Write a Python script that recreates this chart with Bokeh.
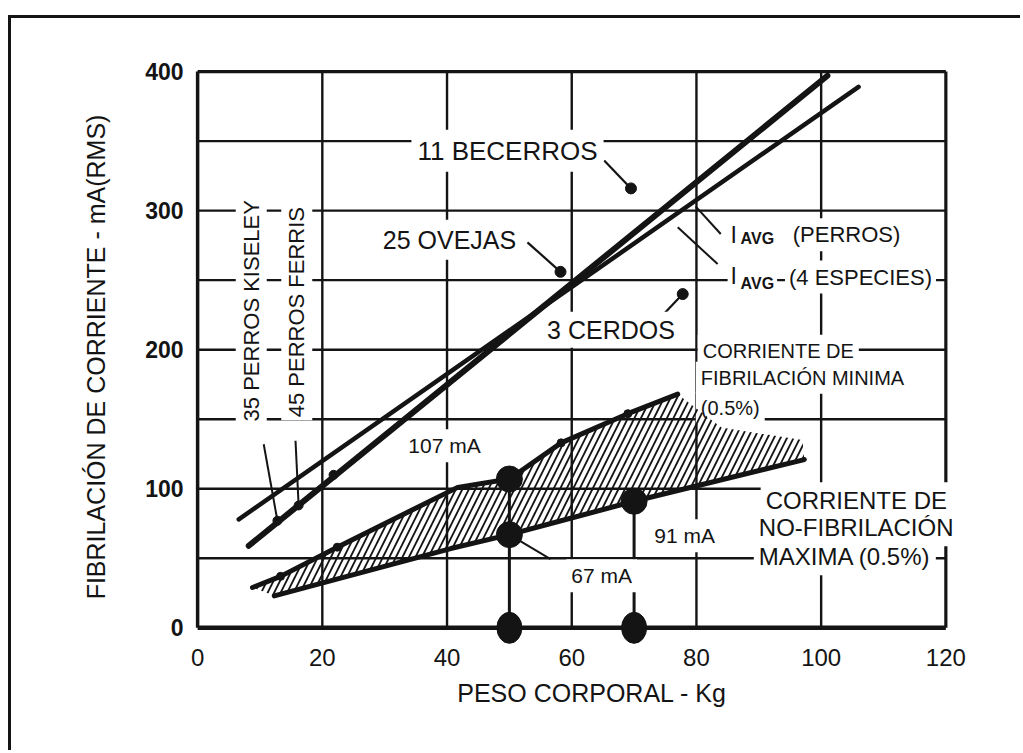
from bokeh.plotting import figure
from bokeh.models import Range1d, FixedTicker, Label
from bokeh.embed import file_html
from bokeh.resources import INLINE
import math

FONT = "Liberation Sans"
INK = "#141414"

# axes
x_ticks = [0, 20, 40, 60, 80, 100, 120]
y_ticks = [0, 100, 200, 300, 400]
grid_x = [20, 40, 60, 80, 100]
grid_y = [50, 100, 150, 200, 250, 300, 350]

# average fibrillation current, dogs and four species (kg, mA)
iavg_perros_kg = [8.2, 101.0]
iavg_perros_ma = [59, 397]
iavg_especies_kg = [6.6, 106.0]
iavg_especies_ma = [78, 389]

# dog study points on the average line
perros_pts_kg = [12.8, 16.2, 21.8]
perros_pts_ma = [77, 88, 110]

# other species (kg, mA)
especies_kg = [69.5, 58.2, 77.8]
especies_ma = [316, 256, 240]
especies_labels = ["11 BECERROS", "25 OVEJAS", "3 CERDOS"]

# minimum fibrillation current (0.5%)
min_fib_kg = [8.8, 13.3, 22.4, 41.7, 50, 58.3, 69, 77]
min_fib_ma = [29, 37, 58, 101, 107, 133, 154, 168]

# maximum non-fibrillation current (0.5%)
max_nofib_kg = [12.3, 40.6, 50, 58.3, 70, 97.3]
max_nofib_ma = [23, 57, 67, 77, 91, 121]

# upper edge of the hatched band past the end of the minimum curve
band_tail_kg = [84, 97]
band_tail_ma = [144, 135]

# highlighted currents at 50 kg and 70 kg
marked_kg = [50, 50, 70]
marked_ma = [107, 67, 91]
marked_labels = ["107 mA", "67 mA", "91 mA"]
axis_marks_kg = [50, 70]

p = figure(width=1012, height=735,
           x_range=Range1d(-0.5, 127.0), y_range=Range1d(-12, 401.5),
           output_backend="svg", toolbar_location=None,
           min_border_left=183, min_border_right=34,
           min_border_top=51, min_border_bottom=109)
p.margin = (15, 0, 0, 8)
p.styles = {"border-top": "3px solid #141414", "border-left": "3px solid #141414"}
p.outline_line_color = None
p.grid.visible = False
p.background_fill_color = "white"
p.border_fill_color = "white"

# axes: labels only, the frame is drawn below
p.xaxis.ticker = FixedTicker(ticks=x_ticks)
p.yaxis.ticker = FixedTicker(ticks=y_ticks)
for ax in (p.xaxis[0], p.yaxis[0]):
    ax.axis_line_color = None
    ax.major_tick_line_color = None
    ax.minor_tick_line_color = None
    ax.major_tick_out = 0
    ax.major_tick_in = 0
    ax.major_label_text_font = FONT
    ax.major_label_text_color = INK
    ax.axis_label_text_font = FONT
    ax.axis_label_text_font_style = "normal"
    ax.axis_label_text_color = INK
    ax.axis_label_text_font_size = "25px"

p.xaxis.major_label_text_font_size = "24px"
p.xaxis.major_label_standoff = 4
p.xaxis.axis_label = "PESO CORPORAL - Kg"
p.xaxis.axis_label_standoff = 10

p.yaxis.major_label_text_font_size = "23px"
p.yaxis.major_label_text_font_style = "bold"
p.yaxis.major_label_standoff = 11
p.yaxis.axis_label = "FIBRILACIÓN DE CORRIENTE - mA(RMS)"
p.yaxis.axis_label_standoff = 32

x0, x1 = x_ticks[0], x_ticks[-1]
y0, y1 = y_ticks[0], y_ticks[-1]

# grid
p.segment(x0=grid_x, y0=[y0] * len(grid_x), x1=grid_x, y1=[y1] * len(grid_x),
          line_color=INK, line_width=2.4)
p.segment(x0=[x0] * len(grid_y), y0=grid_y, x1=[x1] * len(grid_y), y1=grid_y,
          line_color=INK, line_width=2.4)

# frame
p.segment(x0=[x0], y0=[y0], x1=[x0], y1=[y1], line_color=INK, line_width=3.5)
p.segment(x0=[x0], y0=[y0], x1=[x1], y1=[y0], line_color=INK, line_width=4.5)
p.segment(x0=[x0], y0=[y1], x1=[x1], y1=[y1], line_color=INK, line_width=3.2)
p.segment(x0=[x1], y0=[y0], x1=[x1], y1=[y1], line_color=INK, line_width=3.2)

# average current lines
p.line(iavg_perros_kg, iavg_perros_ma, line_color=INK, line_width=6, line_cap="round")
p.line(iavg_especies_kg, iavg_especies_ma, line_color=INK, line_width=4.5, line_cap="round")
p.scatter(perros_pts_kg, perros_pts_ma, size=9, color=INK)

# species points and their leaders
p.scatter(especies_kg, especies_ma, size=11, color=INK)
leader_from = [(65.2, 336.0), (52.9, 277.2), (74.8, 225.9)]
p.segment(x0=[a for a, _ in leader_from], y0=[b for _, b in leader_from],
          x1=especies_kg, y1=especies_ma, line_color=INK, line_width=2.2)
p.segment(x0=[59.8], y0=[225.9], x1=[73.8], y1=[225.9],
          line_color="#9a9a9a", line_width=1.5, line_dash="6 4")

# dog study leaders
p.segment(x0=[10.6, 15.7], y0=[132, 134.5],
          x1=perros_pts_kg[:2], y1=perros_pts_ma[:2], line_color=INK, line_width=2)

# I_AVG leaders
p.segment(x0=[83.9, 83.4], y0=[283.2, 261.6], x1=[79.9, 77.0], y1=[302.9, 288.0],
          line_color=INK, line_width=2)

# fibrillation band
p.line(min_fib_kg, min_fib_ma, line_color=INK, line_width=5, line_cap="round")
p.line(max_nofib_kg, max_nofib_ma, line_color=INK, line_width=5, line_cap="round")
p.scatter(min_fib_kg[1:3] + min_fib_kg[5:7], min_fib_ma[1:3] + min_fib_ma[5:7],
          size=8, color=INK)
band_x = min_fib_kg + band_tail_kg + max_nofib_kg[::-1]
band_y = min_fib_ma + band_tail_ma + max_nofib_ma[::-1]
p.patch(band_x, band_y, fill_color=None, line_color=None,
        hatch_pattern="/", hatch_color=INK, hatch_weight=1.8, hatch_scale=13,
        level="overlay")

# 50 kg and 70 kg markers
tops = [max(m for k, m in zip(marked_kg, marked_ma) if k == a) for a in axis_marks_kg]
p.segment(x0=axis_marks_kg, y0=tops, x1=axis_marks_kg, y1=[-10] * len(axis_marks_kg),
          line_color=INK, line_width=3)
p.scatter(marked_kg, marked_ma, size=26, color=INK)
p.ellipse(x=axis_marks_kg, y=[y0] * len(axis_marks_kg), width=25, height=31,
          width_units="screen", height_units="screen", color=INK)
p.segment(x0=[marked_kg[1]], y0=[marked_ma[1]], x1=[56.6], y1=[49.4],
          line_color=INK, line_width=2)


def label(x, y, text, size, align="center", angle=0.0, style="normal", pad=4):
    p.add_layout(Label(x=x, y=y, text=text, text_font=FONT, text_font_size=f"{size}px",
                       text_font_style=style, text_color=INK, text_align=align,
                       text_baseline="middle", angle=angle,
                       background_fill_color="white", padding=pad))


label(49.7, 343.0, especies_labels[0], 26, pad=6)
label(40.4, 279.0, especies_labels[1], 25, pad=6)
label(66.3, 214.4, especies_labels[2], 25, pad=4)

label(8.6, 228.0, "35 PERROS KISELEY", 22, angle=math.pi / 2, pad=3)
label(15.9, 227.0, "45 PERROS FERRIS", 22, angle=math.pi / 2, pad=3)

label(85.0, 282.7, "I", 23, align="left", pad=3)
label(86.6, 280.0, "AVG", 16, align="left", style="bold", pad=3)
label(94.8, 282.7, "(PERROS)", 22, align="left", pad=4)
label(85.0, 253.2, "I", 23, align="left", pad=3)
label(86.6, 247.8, "AVG", 16, align="left", style="bold", pad=3)
label(94.2, 252.2, "(4 ESPECIES)", 22, align="left", pad=4)

label(80.2, 199.3, "CORRIENTE DE", 20, align="left", pad=5)
label(79.9, 179.9, "FIBRILACIÓN MINIMA", 20, align="left", pad=5)
label(79.9, 158.3, "(0.5%)", 20, align="left", pad=5)

label(90.3, 91.4, "CORRIENTE DE", 24, align="left", pad=5)
label(89.2, 71.9, "NO-FIBRILACIÓN", 24, align="left", pad=5)
label(89.2, 51.1, "MAXIMA (0.5%)", 24, align="left", pad=5)

label(39.6, 130.9, marked_labels[0], 21, pad=5)
label(64.8, 37.4, marked_labels[1], 21, pad=5)
label(78.1, 66.2, marked_labels[2], 21, pad=5)

open("out.html", "w").write(file_html(p, INLINE))
